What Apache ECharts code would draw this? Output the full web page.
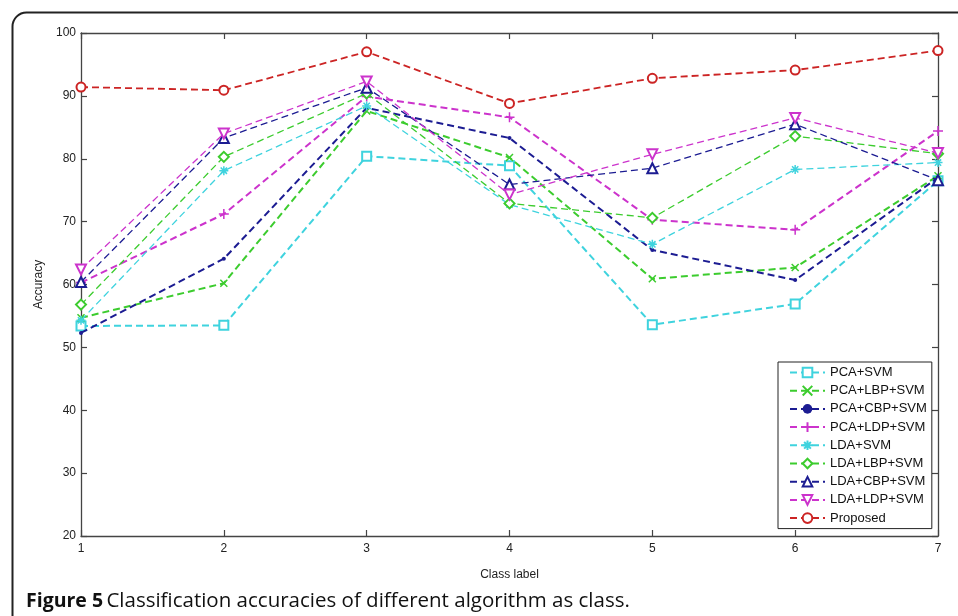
<!DOCTYPE html>
<html>
<head>
<meta charset="utf-8">
<script src="https://cdn.jsdelivr.net/npm/echarts@6/dist/echarts.min.js"></script>
<style>
html,body{margin:0;padding:0;background:#fff;}
#chart{width:958px;height:616px;}
</style>
</head>
<body>
<div id="chart"></div>
<script>
const classes = [1, 2, 3, 4, 5, 6, 7];
const yTicks = [20, 30, 40, 50, 60, 70, 80, 90, 100];
const seriesNames = ['PCA+SVM','PCA+LBP+SVM','PCA+CBP+SVM','PCA+LDP+SVM','LDA+SVM','LDA+LBP+SVM','LDA+CBP+SVM','LDA+LDP+SVM','Proposed'];
const pcaSvm    = [53.4, 53.5, 80.4, 78.9, 53.6, 56.9, 76.5];
const pcaLbpSvm = [54.7, 60.2, 87.6, 80.2, 60.9, 62.7, 77.3];
const pcaCbpSvm = [52.3, 64.1, 88.1, 83.3, 65.5, 60.7, 77.0];
const pcaLdpSvm = [60.3, 71.2, 89.9, 86.6, 70.3, 68.7, 84.4];
const ldaSvm    = [54.3, 78.1, 88.4, 72.7, 66.4, 78.3, 79.4];
const ldaLbpSvm = [56.8, 80.3, 90.4, 72.9, 70.6, 83.6, 80.8];
const ldaCbpSvm = [60.4, 83.3, 91.3, 75.9, 78.5, 85.5, 76.6];
const ldaLdpSvm = [62.4, 84.0, 92.3, 74.3, 80.7, 86.5, 80.9];
const proposed  = [91.4, 90.9, 97.0, 88.8, 92.8, 94.1, 97.2];

const allValues = [pcaSvm, pcaLbpSvm, pcaCbpSvm, pcaLdpSvm, ldaSvm, ldaLbpSvm, ldaCbpSvm, ldaLdpSvm, proposed];

const CYAN = '#3fd3de', GREEN = '#3ccc2e', NAVY = '#1c1c92', MAG = '#cc33cc', RED = '#cc2424';
const styles = [
  {color: CYAN,  width: 2.0, symbol: 'emptyRect', size: 9},
  {color: GREEN, width: 2.0, symbol: 'path://M0,0L10,10M10,0L0,10', size: 7, stroke: true},
  {color: NAVY,  width: 2.0, symbol: 'circle', size: 4},
  {color: MAG,   width: 2.0, symbol: 'path://M5,0L5,10M0,5L10,5', size: 10, stroke: true},
  {color: CYAN,  width: 1.3, symbol: 'path://M5,0L5,10M0,5L10,5M1.5,1.5L8.5,8.5M8.5,1.5L1.5,8.5', size: 9, stroke: true},
  {color: GREEN, width: 1.3, symbol: 'emptyDiamond', size: 10},
  {color: NAVY,  width: 1.3, symbol: 'emptyTriangle', size: 10},
  {color: MAG,   width: 1.3, symbol: 'emptyTriangle', size: 10, rotate: 180},
  {color: RED,   width: 1.8, symbol: 'emptyCircle', size: 9}
];

const series = seriesNames.map((name, i) => {
  const s = styles[i];
  const item = {color: s.color};
  if (s.stroke) { item.borderColor = s.color; item.borderWidth = 1.5; }
  return {
    name: name,
    type: 'line',
    data: classes.map((c, j) => [c, allValues[i][j]]),
    symbol: s.symbol,
    symbolSize: s.size,
    symbolRotate: s.rotate || 0,
    showAllSymbol: true,
    lineStyle: {color: s.color, width: s.width, type: [7, 4]},
    itemStyle: item,
    emphasis: {disabled: true},
    animation: false,
    z: 2 + i
  };
});

const axisLine = {show: true, lineStyle: {color: '#444', width: 1.3}};
const chart = echarts.init(document.getElementById('chart'), null, {renderer: 'canvas'});
chart.setOption({
  backgroundColor: '#fff',
  animation: false,
  grid: {left: 81, right: 20, top: 33, bottom: 80, containLabel: false},
  xAxis: [{
    type: 'value', min: 1, max: 7, interval: 1, position: 'bottom',
    name: 'Class label', nameLocation: 'middle', nameGap: 33,
    nameTextStyle: {fontFamily: 'Liberation Sans, Arial', fontSize: 12, color: '#222'},
    axisLine: axisLine,
    axisTick: {show: true, inside: true, length: 6, lineStyle: {color: '#444', width: 1.2}},
    axisLabel: {fontFamily: 'Liberation Sans, Arial', fontSize: 12, color: '#222', margin: 7},
    splitLine: {show: false}
  }, {
    type: 'value', min: 1, max: 7, interval: 1, position: 'top',
    axisLine: axisLine,
    axisTick: {show: true, inside: true, length: 6, lineStyle: {color: '#444', width: 1.2}},
    axisLabel: {show: false},
    splitLine: {show: false}
  }],
  yAxis: [{
    type: 'value', min: 20, max: 100, interval: 10, position: 'left',
    name: 'Accuracy', nameLocation: 'middle', nameGap: 31,
    nameTextStyle: {fontFamily: 'Liberation Sans, Arial', fontSize: 12, color: '#222'},
    axisLine: axisLine,
    axisTick: {show: true, inside: true, length: 6, lineStyle: {color: '#444', width: 1.2}},
    axisLabel: {fontFamily: 'Liberation Sans, Arial', fontSize: 12, color: '#222', margin: 5,
      formatter: v => yTicks.includes(v) ? String(v) : ''},
    splitLine: {show: false}
  }, {
    type: 'value', min: 20, max: 100, interval: 10, position: 'right',
    axisLine: axisLine,
    axisTick: {show: true, inside: true, length: 6, lineStyle: {color: '#444', width: 1.2}},
    axisLabel: {show: false},
    splitLine: {show: false}
  }],
  legend: {
    data: seriesNames,
    orient: 'vertical',
    left: 778, top: 362,
    padding: [4, 5, 4, 11],
    itemGap: 5.2,
    itemWidth: 35,
    itemHeight: 12,
    borderColor: '#222',
    borderWidth: 1,
    backgroundColor: '#fff',
    textStyle: {fontFamily: 'Liberation Sans, Arial', fontSize: 13, color: '#111'},
    selectedMode: false
  },
  graphic: [
    {type: 'rect', left: 10, top: 10, z: 100, silent: true,
     shape: {x: 0, y: 0, width: 1000, height: 700, r: [14, 0, 0, 0]},
     style: {fill: 'none', stroke: '#222', lineWidth: 2}},
    {type: 'text', left: 26, top: 591, z: 100, silent: true,
     style: {
       text: '{b|Figure 5} {n|Classification accuracies of different algorithm as class.}',
       rich: {
         b: {fontFamily: 'Open Sans', fontWeight: 'bold', fontSize: 19.5, fill: '#111'},
         n: {fontFamily: 'Open Sans', fontWeight: 'normal', fontSize: 20.5, fill: '#111'}
       }
     }}
  ],
  series: series
});
</script>
</body>
</html>
